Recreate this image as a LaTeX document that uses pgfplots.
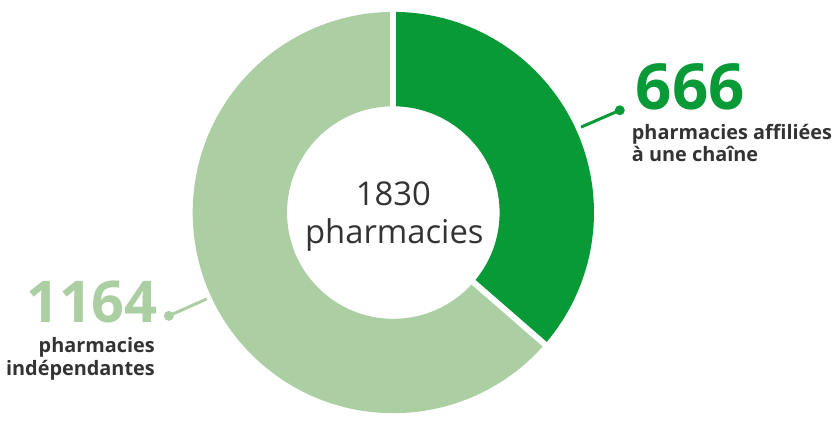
\documentclass[border=0pt]{standalone}
\usepackage{pgfplots}
\pgfplotsset{compat=1.18}
\usepackage{fontspec}
\setmainfont{Open Sans}
\definecolor{dkgreen}{HTML}{079A36}
\definecolor{ltgreen}{HTML}{ABCFA3}
\definecolor{txt}{HTML}{333333}
\begin{document}
\begin{tikzpicture}
% data
\def\vA{666}   % pharmacies affiliees a une chaine
\def\vB{1164}  % pharmacies independantes
\pgfmathsetmacro{\tot}{\vA+\vB}
\pgfmathsetmacro{\aS}{90}
\pgfmathsetmacro{\aM}{90-\vA/\tot*360}
\pgfmathsetmacro{\aE}{90-360}
\def\R{202}
\def\r{107}
\begin{axis}[
  x=1pt, y=1pt,
  xmin=0, xmax=832, ymin=0, ymax=415,
  hide axis, clip=false,
]
\path (axis cs:0,0) (axis cs:832,415);
\coordinate (C) at (axis cs:396,201);
\fill[dkgreen] ([shift={(\aS:\R pt)}]C) arc[start angle=\aS, end angle=\aM, radius=\R pt]
  -- ([shift={(\aM:\r pt)}]C) arc[start angle=\aM, end angle=\aS, radius=\r pt] -- cycle;
\fill[ltgreen] ([shift={(\aM:\R pt)}]C) arc[start angle=\aM, end angle=\aE, radius=\R pt]
  -- ([shift={(\aE:\r pt)}]C) arc[start angle=\aE, end angle=\aM, radius=\r pt] -- cycle;
\draw[white, line width=6pt] ([shift={(\aS:\r pt-2pt)}]C) -- ([shift={(\aS:\R pt+2pt)}]C);
\draw[white, line width=6pt] ([shift={(\aM:\r pt-2pt)}]C) -- ([shift={(\aM:\R pt+2pt)}]C);
% center label
\node[txt, font=\fontsize{33}{40}\selectfont, align=center, anchor=base] at (axis cs:396,208) {1830};
\node[txt, font=\fontsize{33}{40}\selectfont, align=center, anchor=base] at (axis cs:397,170) {pharmacies};
% right label
\draw[dkgreen, line width=3pt] (axis cs:585,287) -- (axis cs:624,304);
\fill[dkgreen] (axis cs:624,304) circle[radius=5pt];
\node[dkgreen, font=\bfseries\fontsize{64}{64}\selectfont, anchor=base west, inner sep=0pt] at (axis cs:640,305) {666};
\node[txt, font=\bfseries\fontsize{20}{23}\selectfont, anchor=base west, inner sep=0pt] at (axis cs:636,275) {pharmacies affiliées};
\node[txt, font=\bfseries\fontsize{20}{23}\selectfont, anchor=base west, inner sep=0pt] at (axis cs:636,252) {à une chaîne};
% left label
\draw[ltgreen, line width=3pt] (axis cs:208,114) -- (axis cs:170,97);
\fill[ltgreen] (axis cs:170,97) circle[radius=5pt];
\node[ltgreen, font=\bfseries\fontsize{58}{58}\selectfont, anchor=base east, inner sep=0pt] at (axis cs:159,90) {1164};
\node[txt, font=\bfseries\fontsize{20}{23}\selectfont, anchor=base east, inner sep=0pt] at (axis cs:156,60) {pharmacies};
\node[txt, font=\bfseries\fontsize{20}{23}\selectfont, anchor=base east, inner sep=0pt] at (axis cs:156,37) {indépendantes};
\end{axis}
\end{tikzpicture}
\end{document}
